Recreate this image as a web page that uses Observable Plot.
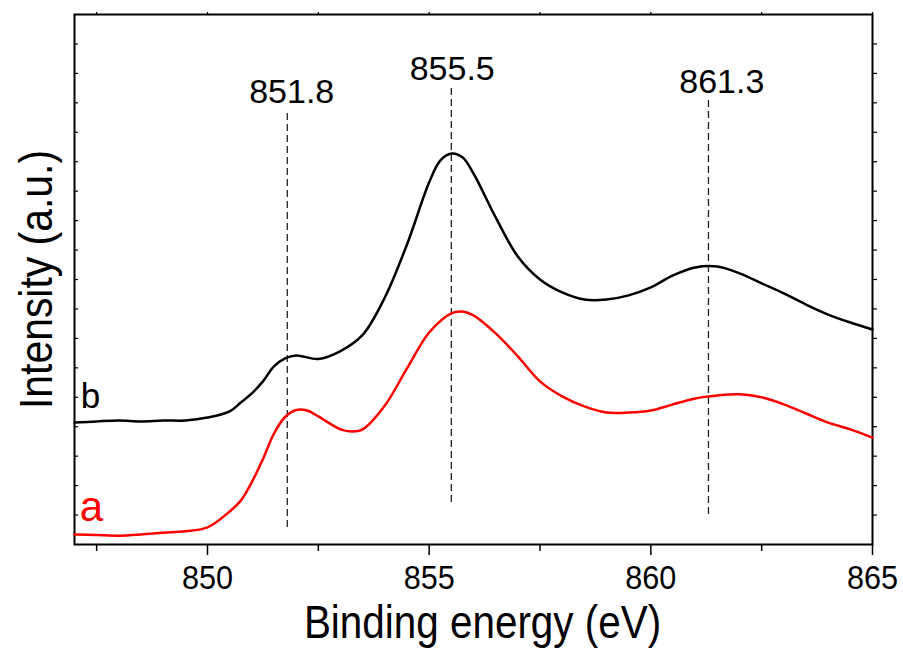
<!DOCTYPE html>
<html><head><meta charset="utf-8">
<script src="https://cdn.jsdelivr.net/npm/d3@7"></script>
<script src="https://cdn.jsdelivr.net/npm/@observablehq/plot@0.6"></script>
<style>body{margin:0;background:#fff} #chart{width:903px;height:649px}</style>
</head><body><div id="chart"></div>
<script>
// Curve b (black)
const energyB = [847,847.5,848,848.5,849,849.5,850,850.5,850.75,851,851.25,851.5,851.75,852,852.5,853,853.5,854,854.5,855,855.25,855.5,855.75,856,856.5,857,857.5,858,858.5,859,859.5,860,860.5,861,861.5,862,862.5,863,863.5,864,864.5,865];
const intensityB = [4.14,4.18,4.21,4.18,4.21,4.21,4.31,4.52,4.82,5.13,5.54,6.05,6.32,6.42,6.30,6.57,7.12,8.39,10.19,12.30,13.04,13.28,13.15,12.60,11.11,9.78,9.00,8.56,8.32,8.32,8.46,8.73,9.14,9.41,9.44,9.21,8.87,8.53,8.15,7.81,7.54,7.30];
// Curve a (red)
const energyA = [847,847.5,848,848.5,849,849.5,850,850.5,850.75,851,851.25,851.5,851.75,852,852.25,852.5,853,853.25,853.5,854,854.5,855,855.5,855.75,856,856.5,857,857.5,858,858.5,859,859.5,860,860.5,861,861.5,862,862.5,863,863.5,864,864.5,865];
const intensityA = [0.34,0.32,0.30,0.34,0.40,0.45,0.58,1.12,1.49,2.12,2.90,3.77,4.33,4.57,4.55,4.35,3.91,3.84,3.91,4.72,5.98,7.20,7.85,7.91,7.78,7.17,6.39,5.54,5.03,4.69,4.48,4.48,4.55,4.76,4.96,5.06,5.10,5.00,4.76,4.45,4.14,3.91,3.63];

// Peak markers
const peakEnergy = [851.8, 855.5, 861.3];
const peakLabel = ["851.8", "855.5", "861.3"];
const peakLabelX = [851.9, 855.52, 861.6];
const peakLabelY = [14.98, 15.76, 15.32];
const peakLineTop = [14.64, 15.49, 15.08];
const peakLineBottom = [0.54, 1.39, 0.98];

const xMajorTicks = [850, 855, 860, 865];
const xMinorTicks = [847.5, 852.5, 857.5, 862.5];
const yTicks = d3.range(1, 18);
const xTitle = "Binding energy (eV)";
const yTitle = "Intensity (a.u.)";

const seriesB = energyB.map((e, i) => ({energy: e, intensity: intensityB[i]}));
const seriesA = energyA.map((e, i) => ({energy: e, intensity: intensityA[i]}));
const peaks = peakEnergy.map((e, i) => ({energy: e, label: peakLabel[i], lx: peakLabelX[i], ly: peakLabelY[i], y1: peakLineTop[i], y2: peakLineBottom[i]}));

const font = "'Liberation Sans', Arial, Helvetica, sans-serif";

const chart = Plot.plot({
  width: 903, height: 649,
  marginLeft: 74, marginRight: 31, marginTop: 14, marginBottom: 105,
  style: {fontFamily: font, background: "#fff", color: "#000"},
  x: {domain: [847, 865]},
  y: {domain: [0, 18]},
  marks: [
    Plot.axisX({anchor: "bottom", ticks: xMajorTicks, tickSize: 11, tickPadding: 9, fontSize: 34, label: null, strokeWidth: 1.5, tickFormat: d => String(d)}),
    Plot.axisX({anchor: "bottom", ticks: xMinorTicks, tickSize: 7, text: null, label: null, strokeWidth: 1.5}),
    Plot.axisX({anchor: "top", ticks: xMajorTicks.concat(xMinorTicks), tickSize: 3, text: null, label: null, strokeWidth: 1.2}),
    Plot.axisY({anchor: "right", ticks: yTicks, tickSize: 4, text: null, label: null, strokeWidth: 1.2}),
    Plot.tickY(yTicks, {y: d => d, insetRight: 794, strokeWidth: 1.2}),
    Plot.frame({strokeWidth: 2, stroke: "#000"}),
    Plot.ruleX(peaks, {x: "energy", y1: "y1", y2: "y2", strokeDasharray: "7,4", strokeWidth: 1.3, stroke: "#222"}),
    Plot.text(peaks, {x: "lx", y: "ly", text: "label", lineAnchor: "bottom", fontSize: 34, fill: "#000"}),
    Plot.line(seriesB, {x: "energy", y: "intensity", stroke: "#000", strokeWidth: 2.5, curve: "catmull-rom"}),
    Plot.line(seriesA, {x: "energy", y: "intensity", stroke: "#ff0000", strokeWidth: 2.5, curve: "catmull-rom"}),
    Plot.text(["b"], {x: 847.14, y: 4.65, textAnchor: "start", lineAnchor: "bottom", fontSize: 35, fill: "#000"}),
    Plot.text(["a"], {x: 847.12, y: 0.8, textAnchor: "start", lineAnchor: "bottom", fontSize: 42, fill: "#ff0000"}),
    Plot.text([yTitle], {frameAnchor: "left", dx: -38, rotate: -90, fontSize: 47, textAnchor: "middle", lineAnchor: "middle", fill: "#000"}),
    Plot.text([xTitle], {frameAnchor: "bottom", dx: 9, dy: 93, textAnchor: "middle", lineAnchor: "bottom", fontSize: 47, fill: "#000"})
  ]
});
// Condense some texts horizontally like the original's narrow typeface
function condense(el, s) {
  const tr = el.getAttribute("transform");
  if (tr) {
    el.setAttribute("transform", tr + ` scale(${s},1)`);
  } else {
    const x = +(el.getAttribute("x") || 0), y = +(el.getAttribute("y") || 0);
    el.removeAttribute("x"); el.removeAttribute("y");
    el.setAttribute("transform", `translate(${x},${y}) scale(${s},1)`);
  }
}
const tickStrings = xMajorTicks.map(String);
chart.querySelectorAll("text").forEach(el => {
  const s = el.textContent;
  if (s === xTitle) condense(el, 0.86);
  else if (s === yTitle) condense(el, 0.87);
  else if (tickStrings.includes(s)) condense(el, 0.9);
});
document.getElementById("chart").appendChild(chart);
</script>
</body></html>
